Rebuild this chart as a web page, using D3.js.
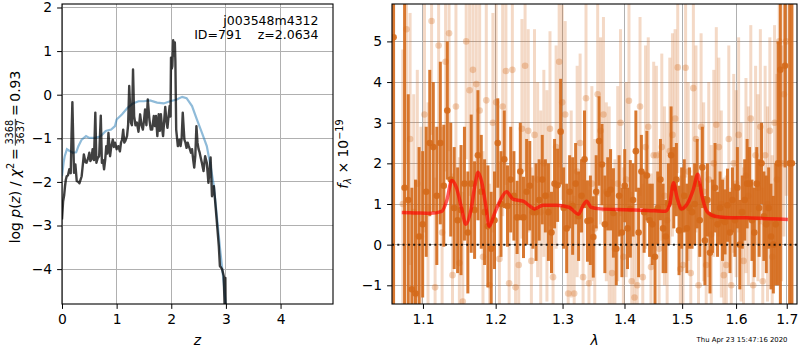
<!DOCTYPE html>
<html>
<head>
<meta charset="utf-8">
<script src="https://cdnjs.cloudflare.com/ajax/libs/d3/7.8.5/d3.min.js"></script>
<style>
    body { margin: 0; background: #fff; }
    svg { display: block; font-family: "DejaVu Sans", sans-serif; }
    .grid line { stroke: #b0b0b0; stroke-width: 1; shape-rendering: crispEdges; }
    .axis line { stroke: #000; stroke-width: 1; }
    .axis path { display: none; }
    .axis text { font-size: 13.9px; fill: #000; font-family: "DejaVu Sans", sans-serif; }
</style>
</head>
<body>
<svg id="chart" width="800" height="350"></svg>
<script>
// p(z) panel: noisy log p(z) and the smooth prior curve
var zGrid = [0.00, 0.02, 0.04, 0.055, 0.07, 0.086, 0.11, 0.134, 0.16, 0.175, 0.19, 0.205, 0.22, 0.245, 0.27, 0.30, 0.32, 0.34, 0.36, 0.40,
    0.43, 0.45, 0.48, 0.50, 0.52, 0.54, 0.56, 0.585, 0.61, 0.63, 0.655, 0.68, 0.71, 0.73, 0.75, 0.77, 0.79, 0.81, 0.83, 0.85,
    0.88, 0.90, 0.93, 0.95, 0.97, 1.00, 1.03, 1.06, 1.08, 1.10, 1.12, 1.14, 1.16, 1.19, 1.21, 1.23, 1.26, 1.28, 1.30, 1.32,
    1.345, 1.37, 1.40, 1.43, 1.455, 1.48, 1.50, 1.52, 1.545, 1.57, 1.60, 1.625, 1.65, 1.68, 1.70, 1.72, 1.745, 1.77, 1.79, 1.81,
    1.83, 1.85, 1.87, 1.89, 1.91, 1.93, 1.95, 1.97, 1.985, 1.995, 2.01, 2.02, 2.035, 2.05, 2.065, 2.075, 2.09, 2.12, 2.15, 2.17,
    2.19, 2.21, 2.24, 2.26, 2.28, 2.30, 2.32, 2.34, 2.36, 2.38, 2.40, 2.42, 2.44, 2.46, 2.48, 2.50, 2.52, 2.54, 2.56, 2.59,
    2.62, 2.65, 2.68, 2.72, 2.745, 2.78, 2.81, 2.84, 2.87, 2.89, 2.93, 2.96, 2.975, 2.99, 3.00];
var logPz = [-2.86, -2.45, -2.30, -2.10, -1.95, -1.87, -1.85, -1.71, -1.80, -0.90, -0.17, -1.00, -1.79, -1.60, -1.98, -2.00, -2.03, -1.95, -1.87, -1.37,
    -1.55, -1.56, -1.45, -1.33, -1.52, -1.48, -1.25, -1.50, -0.41, -1.56, -1.45, -1.41, -0.48, -1.56, -1.50, -1.71, -1.50, -1.18, -1.35, -0.88,
    -1.41, -1.20, -1.03, -1.20, -1.10, -1.25, -1.18, -1.30, -1.10, -1.03, -0.80, -1.10, -1.06, -0.95, -0.70, 0.20, -0.64, -0.70, 0.58, -0.49,
    -0.70, -0.64, -0.85, -0.45, -0.70, -0.80, -0.60, -0.34, -0.70, -0.11, -0.57, -0.80, -0.80, -0.49, -0.72, -0.49, -0.95, -0.45, -0.83, -0.45,
    -0.75, -0.95, -0.60, -0.28, -0.60, -0.76, -0.50, -0.26, -0.50, 0.85, 0.60, 0.66, 1.25, 0.90, 1.20, 0.77, -0.80, -1.18, -1.03, -1.18,
    -1.00, -0.41, -1.03, -1.10, -1.22, -1.10, -1.18, -1.25, -1.33, -1.25, -1.48, -1.67, -1.40, -0.72, -1.10, -1.25, -1.33, -1.45, -1.56, -1.75,
    -1.41, -1.56, -2.02, -1.44, -2.33, -2.10, -2.55, -3.01, -3.47, -3.93, -4.00, -4.16, -4.80, -4.20, -5.50];
var zPrior = [0.00, 0.03, 0.05, 0.09, 0.14, 0.20, 0.26, 0.30, 0.36, 0.44, 0.50, 0.60, 0.70, 0.80, 0.90, 0.97, 1.00, 1.10, 1.20, 1.30,
    1.40, 1.50, 1.61, 1.74, 1.86, 1.98, 2.10, 2.20, 2.28, 2.38, 2.47, 2.56, 2.65, 2.72, 2.78, 2.84, 2.90, 2.96, 3.01];
var logPrior = [-1.87, -1.55, -1.41, -1.25, -1.29, -1.33, -1.32, -1.18, -1.03, -0.95, -0.99, -0.99, -0.96, -0.83, -0.80, -0.72, -0.57, -0.45, -0.30, -0.20,
    -0.15, -0.15, -0.13, -0.18, -0.20, -0.15, -0.11, -0.05, -0.08, -0.26, -0.57, -0.87, -1.18, -1.64, -2.10, -2.86, -3.62, -4.31, -5.00];
var zTicks = [0, 1, 2, 3, 4],
    pzTicks = [-4, -3, -2, -1, 0, 1, 2];

// spectrum panel: two grism spectra on regular wavelength grids (microns)
var darkStart = 1.062, darkStep = 0.0047;
var darkFlux = [5.1, null, null, 1.4, 1.1, -1.1, -1.2, 0.2, 0.5, 1.3,
    2.5, 2.4, 1.2, 2.5, 1.45, 3.3, 1.6, 0.9, 0.6, 0.85,
    1.5, 0.3, 1.5, 0.85, 2.2, 1.3, 0.8, 0.45, -0.1, 0.6,
    2.5, 1.0, 2.1, 0.95, 1.6, 1.2, 0.67, 1.8, 0.67, 1.3,
    1.45, 0.8, 0.8, 1.1, 1.6, 1.2, 0.8, 0.3, 1.5, 1.46,
    2.78, 0.9, 0.4, 1.3, 0.95, 1.5, 0.7, 1.2, 2.1, 0.58,
    0.6, 0.19, 1.3, 2.55, 1.97, 0.5, 1.25, 1.35, 0.78, -0.1,
    1.2, 0.3, 1.45, 0.4, 0.88, 1.1, 2.3, 0.3, 1.8, 0.8,
    1.7, 0.6, 0.5, -0.3, 0.9, 1.6, 0.4, 0.2, 1.0, 2.2,
    1.4, 1.6, 0.35, 0.9, 1.2, 0.4, 0.9, 0.8, 1.0, 1.5,
    0.6, 1.9, 0.1, 1.1, -0.2, 0.7, 1.4, 0.5, 0.9, 0.6,
    0.56, 0.97, 0.3, 1.1, 0.6, 1.4, 0.0, 0.8, 1.1, 1.5,
    1.5, 0.6, 0.3, 1.5, 0.9, 2.0, 0.7, 0.5, 0.9, 0.2,
    0.0, 0.5, 2.0, 4.3, null, 4.4, null, 2.0, 2.0];
var darkErr = [12, null, null, 9, 2.6, 2.5, 2.8, 2.2, 1.8, 1.6,
    1.8, 1.6, 1.7, 2.0, 1.5, 1.7, 1.4, 1.5, 1.3, 1.6,
    1.4, 1.5, 1.7, 1.2, 1.6, 1.4, 1.3, 1.5, 1.4, 1.2,
    1.1, 1.3, 1.2, 1.0, 1.3, 1.1, 0.9, 1.2, 1.0, 1.3,
    1.1, 0.9, 1.2, 1.0, 1.1, 0.9, 1.2, 1.0, 1.1, 0.9,
    1.3, 1.0, 1.1, 0.9, 1.2, 1.0, 1.1, 0.9, 1.2, 1.0,
    1.1, 1.0, 0.9, 1.1, 1.0, 1.2, 0.9, 1.0, 1.1, 0.9,
    1.0, 1.1, 0.9, 1.0, 1.2, 0.9, 1.0, 1.1, 0.9, 1.0,
    1.1, 0.9, 1.0, 1.2, 0.9, 1.0, 1.1, 0.9, 1.0, 1.2,
    1.0, 0.9, 1.1, 1.0, 0.9, 1.1, 1.0, 0.9, 1.0, 1.1,
    0.9, 1.0, 1.1, 0.9, 1.0, 0.9, 1.1, 0.8, 0.9, 1.0,
    0.8, 0.9, 1.0, 0.8, 0.9, 1.0, 1.1, 0.9, 1.0, 1.1,
    0.9, 1.0, 1.1, 0.9, 1.2, 1.0, 1.1, 1.2, 1.0, 1.3,
    1.2, 1.5, 3.0, 9, null, 2.5, null, 10, 10];
var lightStart = 1.0738, lightStep = 0.0047;
var lightFlux = [1.0, 5.3, 2.6, 0.8, 1.5, 0.2, 3.2, 0.9, 5.5, -1.05,
    4.9, 0.3, 4.5, 5.2, -0.75, 3.4, -0.45, -1.4, 5.0, 3.8,
    4.3, 3.95, 3.3, -0.3, 3.55, -1.0, 3.0, 3.5, -0.35, 3.4,
    4.27, -0.95, 4.3, -1.05, -0.5, 2.85, 4.4, 2.8, -0.4, 2.7,
    1.6, 0.8, 2.0, 1.2, 2.85, -0.8, 2.4, 4.5, 3.5, 3.2,
    -1.2, 1.0, -1.2, 1.8, 2.5, -0.8, 3.6, -0.95, 1.5, 0.4,
    3.7, 2.8, 3.2, 1.3, 0.9, -0.7, -0.1, 1.5, 3.0, -0.3,
    1.6, 3.54, -0.9, -1.3, -1.0, 3.4, -0.8, 2.4, 2.9, -0.55,
    2.2, 2.2, -0.1, 2.4, 1.2, 0.6, 2.3, 2.7, 3.1, 4.36,
    -0.6, -0.5, 4.35, 1.8, -0.7, 3.85, 2.6, -1.0, 2.9, 1.3,
    -0.5, 1.6, 0.25, 2.0, 2.95, 2.4, 1.0, -0.75, -0.5, 2.6,
    -1.0, 2.0, 1.5, 2.7, 0.8, -0.4, 1.7, 1.2, 3.1, -1.0,
    2.2, 1.4, 2.9, -0.9, 2.2, 1.0, 2.8, -0.3, 3.0, 1.6,
    5.0, 2.0, 3.7, 5.0];
var lightErr = [3.8, 3.3, 3.1, 2.9, 2.8, 2.7, 2.9, 2.6, 2.8, 2.7,
    2.9, 2.6, 2.7, 2.9, 2.5, 2.8, 2.6, 2.7, 2.9, 2.6,
    2.8, 2.5, 2.7, 2.6, 2.8, 2.5, 2.7, 2.6, 2.4, 2.7,
    2.8, 2.5, 2.6, 2.4, 2.5, 2.7, 2.6, 2.5, 2.3, 2.6,
    2.4, 2.5, 2.3, 2.6, 2.4, 2.3, 2.5, 2.6, 2.4, 2.3,
    2.5, 2.3, 2.4, 2.6, 2.2, 2.4, 2.5, 2.3, 2.4, 2.2,
    2.5, 2.3, 2.4, 2.2, 2.5, 2.3, 2.2, 2.4, 2.3, 2.2,
    2.4, 2.5, 2.2, 2.3, 2.4, 2.2, 2.3, 2.5, 2.2, 2.3,
    2.3, 2.2, 2.4, 2.3, 2.2, 2.4, 2.3, 2.5, 2.2, 2.6,
    2.3, 2.4, 2.7, 2.2, 2.4, 2.5, 2.3, 2.4, 2.3, 2.2,
    2.3, 2.4, 2.2, 2.3, 2.4, 2.2, 2.3, 2.4, 2.2, 2.3,
    2.4, 2.2, 2.3, 2.4, 2.2, 2.3, 2.4, 2.2, 2.3, 2.4,
    2.2, 2.3, 2.4, 2.3, 2.2, 2.4, 2.3, 2.5, 2.4, 2.6,
    3.1, 2.9, 3.5, 3.8];
var modelWave = [1.0725, 1.09, 1.11, 1.125, 1.132, 1.1386, 1.145, 1.152, 1.158, 1.165, 1.171, 1.175, 1.18, 1.186, 1.1908, 1.198,
    1.207, 1.2158, 1.225, 1.24, 1.25, 1.257, 1.27, 1.29, 1.31, 1.325, 1.332, 1.338, 1.345, 1.36, 1.40, 1.44,
    1.47, 1.478, 1.4846, 1.491, 1.4987, 1.51, 1.52, 1.5284, 1.536, 1.545, 1.56, 1.58, 1.62, 1.66, 1.7024];
var modelFlux = [0.79, 0.78, 0.77, 0.82, 1.1, 1.58, 1.4, 0.9, 0.5, 0.85, 1.5, 1.78, 1.55, 0.95, 0.45, 0.75,
    1.1, 1.3, 1.12, 1.07, 0.95, 0.88, 0.97, 0.97, 0.92, 0.75, 0.95, 1.07, 0.92, 0.88, 0.86, 0.84,
    0.82, 1.0, 1.52, 1.15, 0.88, 1.02, 1.35, 1.73, 1.2, 0.82, 0.7, 0.67, 0.66, 0.64, 0.62];
var waveTicks = [1.1, 1.2, 1.3, 1.4, 1.5, 1.6, 1.7],
    fluxTicks = [-1, 0, 1, 2, 3, 4, 5];

var objName = "j003548m4312",
    objInfo = "ID=791    z=2.0634",
    stamp = "Thu Apr 23 15:47:16 2020";

(function () {

    var svg = d3.select("#chart");
    var minus = function (d) { return d < 0 ? "\u2212" + Math.abs(d) : String(d); };

    // label made of pieces (italic / sub / sup / fraction), rotated, centred on cx,cy
    function mathLabel(parent, parts, fs, cx, cy) {
        var g = parent.append("g"),
            inner = g.append("g"),
            x = 0;
        parts.forEach(function (p) {
            if (p.frac) {
                var s = fs * 0.7, a = fs * 0.3;
                var n = inner.append("text").attr("font-size", s).attr("y", -a - 2).attr("text-anchor", "middle").text(p.frac[0]),
                    d = inner.append("text").attr("font-size", s).attr("y", -a + 2 + s * 0.73).attr("text-anchor", "middle").text(p.frac[1]);
                var w = Math.max(n.node().getComputedTextLength(), d.node().getComputedTextLength()) + 2;
                n.attr("x", x + w / 2);
                d.attr("x", x + w / 2);
                inner.append("line").attr("x1", x).attr("x2", x + w).attr("y1", -a).attr("y2", -a)
                    .attr("stroke", "#000").attr("stroke-width", 0.8);
                x += w;
            } else {
                var t = inner.append("text").attr("x", x).attr("y", p.dy || 0)
                    .attr("font-size", fs * (p.size || 1))
                    .style("font-style", p.it ? "italic" : "normal")
                    .style("white-space", "pre")
                    .text(p.t);
                x += t.node().getComputedTextLength();
            }
        });
        inner.attr("transform", "translate(" + (-x / 2) + ",0)");
        g.attr("transform", "translate(" + cx + "," + cy + ") rotate(-90)");
    }

    function frame(g, x0, x1, y0, y1) {
        g.append("rect").attr("x", x0).attr("y", y0).attr("width", x1 - x0).attr("height", y1 - y0)
            .attr("fill", "none").attr("stroke", "#000").attr("stroke-width", 1.1);
    }

    /////////////////////////////////////////////////////////////////////////
    // LEFT PANEL - p(z)
    /////////////////////////////////////////////////////////////////////////

    var L = {x0: 62, x1: 333, y0: 4, y1: 304};
    var xz = d3.scaleLinear().domain([0, 4.96]).range([L.x0, L.x1]),
        yz = d3.scaleLinear().domain([-4.8, 2.08]).range([L.y1, L.y0]);

    var left = svg.append("g");
    left.append("clipPath").attr("id", "clipL").append("rect")
        .attr("x", L.x0).attr("y", L.y0).attr("width", L.x1 - L.x0).attr("height", L.y1 - L.y0);

    var gridL = left.append("g").attr("class", "grid");
    gridL.selectAll(".gx").data(zTicks).enter().append("line")
        .attr("x1", xz).attr("x2", xz).attr("y1", L.y0).attr("y2", L.y1);
    gridL.selectAll(".gy").data(pzTicks).enter().append("line")
        .attr("y1", yz).attr("y2", yz).attr("x1", L.x0).attr("x2", L.x1);

    var plotL = left.append("g").attr("clip-path", "url(#clipL)");
    plotL.append("path")
        .datum(zPrior.map(function (z, i) { return [z, logPrior[i]]; }))
        .attr("d", d3.line().x(function (d) { return xz(d[0]); }).y(function (d) { return yz(d[1]); }))
        .attr("fill", "none").attr("stroke", "#1f77b4").attr("stroke-opacity", 0.5).attr("stroke-width", 2.2);
    plotL.append("path")
        .datum(zGrid.map(function (z, i) { return [z, logPz[i]]; }))
        .attr("d", d3.line().x(function (d) { return xz(d[0]); }).y(function (d) { return yz(d[1]); }))
        .attr("fill", "none").attr("stroke", "#000").attr("stroke-opacity", 0.75).attr("stroke-width", 2.4)
        .attr("stroke-linejoin", "round");

    left.append("g").attr("class", "axis").attr("transform", "translate(0," + L.y1 + ")")
        .call(d3.axisBottom(xz).tickValues(zTicks).tickFormat(minus).tickSize(4.9).tickPadding(4.9));
    left.append("g").attr("class", "axis").attr("transform", "translate(" + L.x0 + ",0)")
        .call(d3.axisLeft(yz).tickValues(pzTicks).tickFormat(minus).tickSize(4.9).tickPadding(4.9));
    frame(left, L.x0, L.x1, L.y0, L.y1);

    left.append("text").attr("x", 318.5).attr("y", 25).attr("text-anchor", "end")
        .attr("font-size", 12.5).text(objName);
    left.append("text").attr("x", 318.5).attr("y", 38.5).attr("text-anchor", "end")
        .attr("font-size", 12.5).style("white-space", "pre").text(objInfo);

    left.append("text").attr("x", (L.x0 + L.x1) / 2).attr("y", 345).attr("text-anchor", "middle")
        .attr("font-size", 13.9).style("font-style", "italic").text("z");
    mathLabel(left, [{t: "log "}, {t: "p", it: 1}, {t: "("}, {t: "z", it: 1}, {t: ")"}, {t: " / "},
        {t: "\u03c7", it: 1}, {t: "2", size: 0.7, dy: -5.5}, {t: "\u2009=\u2009"}, {frac: ["3368", "3637"]}, {t: "\u2009=\u20090.93"}],
        13.9, 19.5, 157);

    /////////////////////////////////////////////////////////////////////////
    // RIGHT PANEL - spectrum
    /////////////////////////////////////////////////////////////////////////

    var R = {x0: 392, x1: 797, y0: 4, y1: 304};
    var xw = d3.scaleLog().domain([1.06, 1.721]).range([R.x0, R.x1]),
        yf = d3.scaleLinear().domain([-1.46, 5.92]).range([R.y1, R.y0]);

    var right = svg.append("g");
    right.append("clipPath").attr("id", "clipR").append("rect")
        .attr("x", R.x0).attr("y", R.y0).attr("width", R.x1 - R.x0).attr("height", R.y1 - R.y0);

    var gridR = right.append("g").attr("class", "grid");
    gridR.selectAll(".gx").data(waveTicks).enter().append("line")
        .attr("x1", xw).attr("x2", xw).attr("y1", R.y0).attr("y2", R.y1);
    gridR.selectAll(".gy").data(fluxTicks).enter().append("line")
        .attr("y1", yf).attr("y2", yf).attr("x1", R.x0).attr("x2", R.x1);

    var plotR = right.append("g").attr("clip-path", "url(#clipR)");
    var orange = "#d4691a";

    function spectrum(start, step, flux, err, barOp, dotOp) {
        var pts = flux.map(function (f, i) { return {w: start + step * i, f: f, e: err[i]}; })
            .filter(function (d) { return d.f !== null; });
        var g = plotR.append("g");
        g.selectAll("line").data(pts).enter().append("line")
            .attr("x1", function (d) { return xw(d.w); }).attr("x2", function (d) { return xw(d.w); })
            .attr("y1", function (d) { return yf(d.f - d.e); }).attr("y2", function (d) { return yf(d.f + d.e); })
            .attr("stroke", orange).attr("stroke-width", 3).attr("stroke-opacity", barOp);
        g.selectAll("circle").data(pts).enter().append("circle")
            .attr("cx", function (d) { return xw(d.w); }).attr("cy", function (d) { return yf(d.f); })
            .attr("r", 3.3).attr("fill", orange).attr("fill-opacity", dotOp);
    }
    spectrum(lightStart, lightStep, lightFlux, lightErr, 0.25, 0.3);
    spectrum(darkStart, darkStep, darkFlux, darkErr, 0.9, 0.9);

    plotR.append("path")
        .datum(modelWave.map(function (w, i) { return [w, modelFlux[i]]; }))
        .attr("d", d3.line().curve(d3.curveMonotoneX).x(function (d) { return xw(d[0]); }).y(function (d) { return yf(d[1]); }))
        .attr("fill", "none").attr("stroke", "#ff0000").attr("stroke-opacity", 0.65).attr("stroke-width", 3.5)
        .attr("stroke-linejoin", "round");
    plotR.append("line")
        .attr("x1", R.x0).attr("x2", R.x1).attr("y1", yf(0)).attr("y2", yf(0))
        .attr("stroke", "#000").attr("stroke-width", 2).attr("stroke-dasharray", "2,3.3").attr("stroke-opacity", 0.85);

    right.append("g").attr("class", "axis").attr("transform", "translate(0," + R.y1 + ")")
        .call(d3.axisBottom(xw).tickValues(waveTicks).tickFormat(d3.format(".1f")).tickSize(4.9).tickPadding(4.9));
    right.append("g").attr("class", "axis").attr("transform", "translate(" + R.x0 + ",0)")
        .call(d3.axisLeft(yf).tickValues(fluxTicks).tickFormat(minus).tickSize(4.9).tickPadding(4.9));
    frame(right, R.x0, R.x1, R.y0, R.y1);

    right.append("text").attr("x", (R.x0 + R.x1) / 2).attr("y", 345).attr("text-anchor", "middle")
        .attr("font-size", 13.9).style("font-style", "italic").text("\u03bb");
    mathLabel(right, [{t: "f", it: 1}, {t: "\u03bb", it: 1, size: 0.7, dy: 3}, {t: " \u00d7 10"}, {t: "\u221219", size: 0.7, dy: -5.5}],
        13.9, 348, 154);

    svg.append("text").attr("x", 787.5).attr("y", 342).attr("text-anchor", "end")
        .attr("font-size", 6.9).text(stamp);

})();
</script>
</body>
</html>
